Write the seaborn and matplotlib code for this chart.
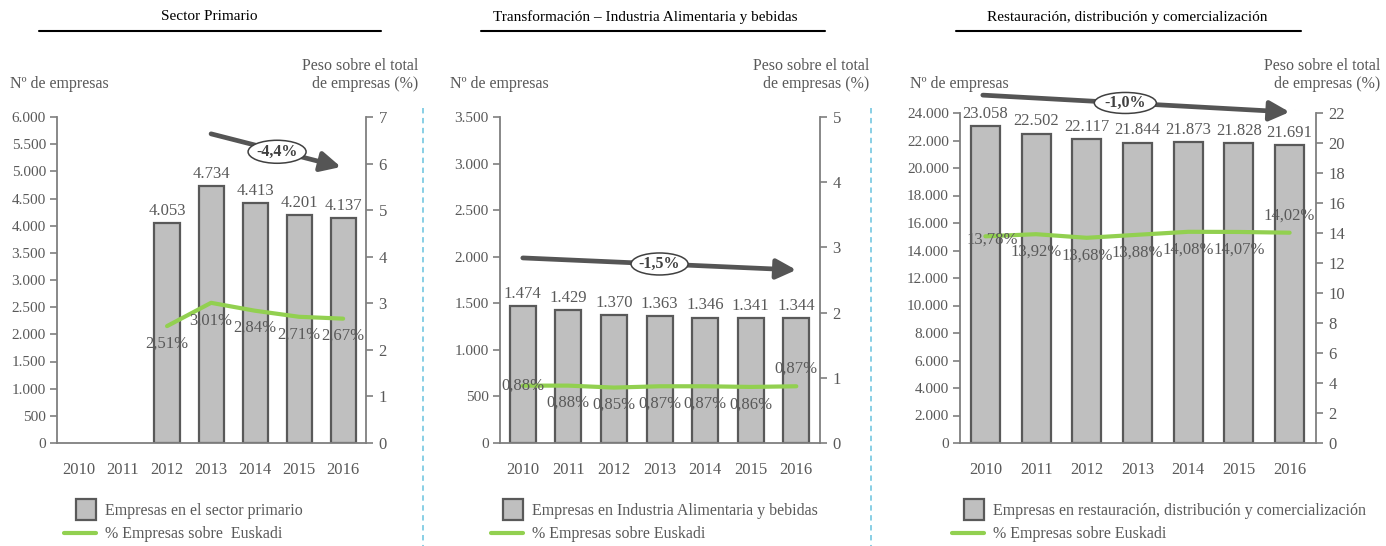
import numpy as np
import pandas as pd
import matplotlib
matplotlib.use("Agg")
import matplotlib.pyplot as plt
import matplotlib.transforms as mtransforms
import seaborn as sns
from matplotlib.patches import Patch, Rectangle, Ellipse
from matplotlib.lines import Line2D
from matplotlib.legend_handler import HandlerPatch
from matplotlib.ticker import FuncFormatter, MultipleLocator

# ---------------- data ----------------
years = ["2010", "2011", "2012", "2013", "2014", "2015", "2016"]

prim_empresas = [np.nan, np.nan, 4053, 4734, 4413, 4201, 4137]
prim_pct = [np.nan, np.nan, 2.51, 3.01, 2.84, 2.71, 2.67]

ind_empresas = [1474, 1429, 1370, 1363, 1346, 1341, 1344]
ind_pct = [0.88, 0.88, 0.85, 0.87, 0.87, 0.86, 0.87]

rest_empresas = [23058, 22502, 22117, 21844, 21873, 21828, 21691]
rest_pct = [13.78, 13.92, 13.68, 13.88, 14.08, 14.07, 14.02]

titles = ["Sector Primario",
          "Transformación – Industria Alimentaria y bebidas",
          "Restauración, distribución y comercialización"]
bar_labels = ["Empresas en el sector primario",
              "Empresas en Industria Alimentaria y bebidas",
              "Empresas en restauración, distribución y comercialización"]
line_label_1 = "% Empresas sobre  Euskadi"
line_label = "% Empresas sobre Euskadi"
trend_labels = ["-4,4%", "-1,5%", "-1,0%"]

# ---------------- style ----------------
sns.set_theme(style="white")
plt.rcParams["font.family"] = ["Liberation Serif", "DejaVu Serif"]
GRAY = "#595959"
SPINE = "#7f7f7f"
BAR = "#bfbfbf"
GREEN = "#92d050"
FS = 11.5

W, H = 1386, 546
fig = plt.figure(figsize=(W / 100, H / 100), dpi=100)


def fx(px):
    return px / W


def fy(py):
    return 1 - py / H


def thousands(v, pos=None):
    return f"{int(round(v)):,}".replace(",", ".")


def pct(v):
    return f"{v:.2f}%".replace(".", ",")


class NarrowPatch(HandlerPatch):
    def __init__(self):
        def f(legend, orig_handle, xdescent, ydescent, width, height, fontsize):
            return Rectangle((-xdescent + width * 0.36, -ydescent - 3.5),
                             width * 0.64, height + 7)
        super().__init__(patch_func=f)


panels = [
    dict(emp=prim_empresas, pct=prim_pct, left=57, right=366, top=117,
         ymax=6000, ystep=500, y2max=7, y2step=1,
         pct_off=[None, None, -1, -1, -1, -1, -1],
         arrow=((3.0, 5690), (5.95, 5080)), ell=(4.5, 5360), ell_wh=(58, 23),
         title_c=209, ul=(39, 381), ylab_x=10, rlab_x=418,
         leg_x=64, sep=423, lbl_line=line_label_1),
    dict(emp=ind_empresas, pct=ind_pct, left=500, right=820, top=117,
         ymax=3500, ystep=500, y2max=5, y2step=1,
         pct_off=[0, -1, -1, -1, -1, -1, 1],
         arrow=((0.0, 1987), (6.0, 1858)), ell=(3.0, 1922), ell_wh=(57, 22),
         title_c=645, ul=(481, 825), ylab_x=450, rlab_x=869,
         leg_x=491, sep=871, lbl_line=line_label),
    dict(emp=rest_empresas, pct=rest_pct, left=960, right=1316, top=113,
         ymax=24000, ystep=2000, y2max=22, y2step=2,
         pct_off=[-0.2, -1, -1, -1, -1, -1, 1],
         arrow=((-0.05, 25300), (6.0, 24070)), ell=(2.76, 24730), ell_wh=(62, 21),
         title_c=1127, ul=(956, 1301), ylab_x=910, rlab_x=1380,
         leg_x=952, sep=None, lbl_line=line_label),
]

bottom = 443
for i, p in enumerate(panels):
    ax = fig.add_axes([fx(p["left"]), fy(bottom), fx(p["right"] - p["left"]),
                       (bottom - p["top"]) / H])
    df = pd.DataFrame({"year": years, "empresas": p["emp"], "pct": p["pct"]})
    sns.barplot(data=df, x="year", y="empresas", order=years, ax=ax,
                color=BAR, saturation=1, width=0.57, edgecolor=GRAY,
                linewidth=1.6, zorder=2)
    for c in ax.containers:
        labs = ["" if np.isnan(v) else thousands(v) for v in c.datavalues]
        ax.bar_label(c, labels=labs, padding=3, color=GRAY, fontsize=12)
    ax.set_xlim(-0.5, 6.52)
    ax.set_ylim(0, p["ymax"])
    ax.yaxis.set_major_locator(MultipleLocator(p["ystep"]))
    ax.yaxis.set_major_formatter(FuncFormatter(thousands))
    ax.set_xlabel("")
    ax.set_ylabel("")
    for s in ["top", "right"]:
        ax.spines[s].set_visible(False)
    for s in ["left", "bottom"]:
        ax.spines[s].set_color(SPINE)
        ax.spines[s].set_linewidth(1.3)
    ax.tick_params(axis="y", which="major", left=True, length=5, width=1.2,
                   color=SPINE, labelcolor=GRAY, labelsize=11, pad=3)
    ax.tick_params(axis="x", bottom=False, labelcolor=GRAY, labelsize=12, pad=8)
    ax.grid(False)

    # secondary axis with percentage line
    ax2 = ax.twinx()
    xpos = np.arange(len(years))
    dl = pd.DataFrame({"x": xpos, "pct": p["pct"]}).dropna()
    sns.lineplot(data=dl, x="x", y="pct", ax=ax2, color=GREEN, linewidth=3,
                 zorder=3)
    ax2.set_ylim(0, p["y2max"])
    ax2.yaxis.set_major_locator(MultipleLocator(p["y2step"]))
    ax2.set_ylabel("")
    ax2.set_xlabel("")
    ax2.set_xlim(-0.5, 6.52)
    for s in ["top", "left", "bottom"]:
        ax2.spines[s].set_visible(False)
    ax2.spines["right"].set_color(SPINE)
    ax2.spines["right"].set_linewidth(1.3)
    ax2.tick_params(axis="y", right=True, length=5, width=1.2, color=SPINE,
                    labelcolor=GRAY, labelsize=12, pad=4)
    ax2.grid(False)
    for xi, v, off in zip(xpos, p["pct"], p["pct_off"]):
        if off is None or np.isnan(v):
            continue
        dx = 5 if (i == 2 and xi == 0) else 0
        ax2.annotate(pct(v), (xi, v), xytext=(dx, off * 12.5),
                     textcoords="offset points", ha="center", va="center",
                     color=GRAY, fontsize=12, zorder=4)

    # trend arrow
    (x0, y0), (x1, y1) = p["arrow"]
    ax.annotate("", xy=(x1, y1), xytext=(x0, y0),
                arrowprops=dict(arrowstyle="-|>,head_length=1.0,head_width=0.5",
                                color="#555555", lw=3.4, shrinkA=0, shrinkB=0),
                annotation_clip=False, zorder=5)
    # ellipse label
    ew, eh = p["ell_wh"]
    etrans = fig.dpi_scale_trans + mtransforms.ScaledTranslation(
        p["ell"][0], p["ell"][1], ax.transData)
    ell = Ellipse((0, 0), width=ew / 100, height=eh / 100, transform=etrans,
                  facecolor="white", edgecolor="#404040", lw=1.1, zorder=6,
                  clip_on=False)
    ax.add_artist(ell)
    ax.text(p["ell"][0], p["ell"][1], trend_labels[i], ha="center", va="center",
            fontsize=11.5, fontweight="bold", color="#404040", zorder=7,
            clip_on=False)

    # titles and underline
    fig.text(fx(p["title_c"]), fy(17), titles[i], ha="center", va="center",
             fontsize=11, color="black")
    fig.add_artist(Line2D([fx(p["ul"][0]), fx(p["ul"][1])], [fy(31), fy(31)],
                          color="black", lw=1.5))
    # axis captions
    fig.text(fx(p["ylab_x"]), fy(84), "Nº de empresas", ha="left", va="center",
             fontsize=11.5, color=GRAY)
    fig.text(fx(p["rlab_x"]), fy(75), "Peso sobre el total\nde empresas (%)",
             ha="right", va="center", fontsize=11.5, color=GRAY,
             linespacing=1.2)

    # legend
    handles = [Patch(facecolor=BAR, edgecolor=GRAY, linewidth=1.6),
               Line2D([], [], color=GREEN, lw=3)]
    ax.legend(handles, [bar_labels[i], p["lbl_line"]], loc="upper left",
              bbox_to_anchor=(fx(p["leg_x"]), fy(503)),
              bbox_transform=fig.transFigure, frameon=False, fontsize=FS,
              labelcolor=GRAY, handlelength=2.0, handletextpad=0.55,
              labelspacing=0.45, borderaxespad=0, borderpad=0,
              handler_map={Patch: NarrowPatch()})

    # dashed separator
    if p["sep"] is not None:
        fig.add_artist(Line2D([fx(p["sep"]), fx(p["sep"])], [fy(108), fy(546)],
                              color="#7fcbe3", lw=1.3, ls=(0, (3, 2.5))))

fig.savefig("out.png", dpi=100)
